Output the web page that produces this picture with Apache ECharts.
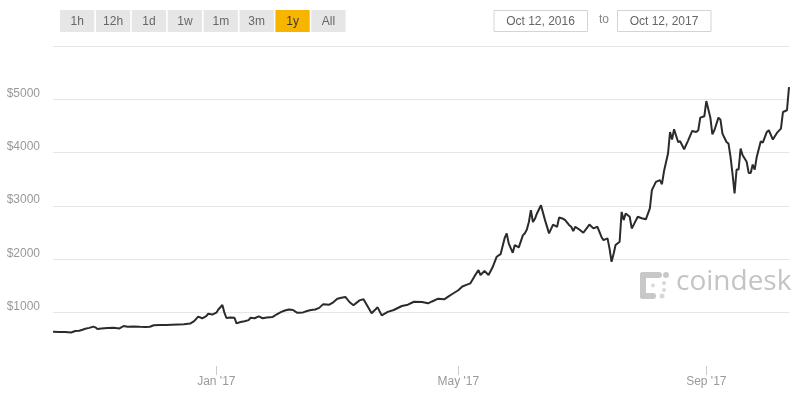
<!DOCTYPE html>
<html><head><meta charset="utf-8">
<script src="https://cdn.jsdelivr.net/npm/echarts@6/dist/echarts.min.js"></script>
<style>html,body{margin:0;padding:0;background:#fff}#chart{width:800px;height:400px}</style>
</head><body><div id="chart"></div>
<script>
const dates = ['2016-10-12','2016-10-15','2016-10-18','2016-10-21','2016-10-23','2016-10-25','2016-10-27','2016-10-28','2016-10-30',
'2016-11-01','2016-11-02','2016-11-03','2016-11-05','2016-11-08','2016-11-11','2016-11-14','2016-11-16','2016-11-18','2016-11-21','2016-11-24','2016-11-27','2016-11-29',
'2016-12-01','2016-12-04','2016-12-07','2016-12-10','2016-12-13','2016-12-16','2016-12-19','2016-12-21','2016-12-23','2016-12-25','2016-12-27','2016-12-28','2016-12-30',
'2017-01-01','2017-01-02','2017-01-04','2017-01-05','2017-01-06','2017-01-08','2017-01-10','2017-01-11','2017-01-13','2017-01-15','2017-01-17','2017-01-18','2017-01-20','2017-01-22','2017-01-24','2017-01-26','2017-01-29','2017-01-31',
'2017-02-02','2017-02-04','2017-02-06','2017-02-08','2017-02-10','2017-02-13','2017-02-15','2017-02-17','2017-02-19','2017-02-21','2017-02-23','2017-02-26','2017-02-28',
'2017-03-02','2017-03-04','2017-03-06','2017-03-08','2017-03-10','2017-03-13','2017-03-15','2017-03-17','2017-03-19','2017-03-22','2017-03-24','2017-03-27','2017-03-30',
'2017-04-03','2017-04-06','2017-04-09','2017-04-13','2017-04-16','2017-04-18','2017-04-21','2017-04-24','2017-04-26','2017-04-28',
'2017-05-01','2017-05-03','2017-05-05','2017-05-07','2017-05-09','2017-05-11','2017-05-12','2017-05-14','2017-05-16','2017-05-18','2017-05-20','2017-05-22','2017-05-24','2017-05-25','2017-05-26','2017-05-28','2017-05-29','2017-05-31',
'2017-06-02','2017-06-03','2017-06-04','2017-06-05','2017-06-06','2017-06-07','2017-06-08','2017-06-09','2017-06-11','2017-06-13','2017-06-15','2017-06-17','2017-06-19','2017-06-20','2017-06-22','2017-06-23','2017-06-25','2017-06-26','2017-06-27','2017-06-28','2017-06-30',
'2017-07-02','2017-07-04','2017-07-05','2017-07-07','2017-07-09','2017-07-11','2017-07-12','2017-07-14','2017-07-15','2017-07-16','2017-07-17','2017-07-18','2017-07-20','2017-07-21','2017-07-22','2017-07-23','2017-07-25','2017-07-26','2017-07-27','2017-07-29','2017-07-31',
'2017-08-02','2017-08-04','2017-08-05','2017-08-07','2017-08-09','2017-08-10','2017-08-11','2017-08-13','2017-08-14','2017-08-15','2017-08-16','2017-08-18','2017-08-19','2017-08-21','2017-08-23','2017-08-25','2017-08-27','2017-08-28','2017-08-29','2017-08-31',
'2017-09-01','2017-09-03','2017-09-04','2017-09-05','2017-09-07','2017-09-08','2017-09-09','2017-09-11','2017-09-12','2017-09-13','2017-09-14','2017-09-15','2017-09-16','2017-09-17','2017-09-18','2017-09-19','2017-09-20','2017-09-21','2017-09-22','2017-09-23','2017-09-24','2017-09-25','2017-09-26','2017-09-28','2017-09-29',
'2017-10-01','2017-10-02','2017-10-04','2017-10-06','2017-10-08','2017-10-09','2017-10-11','2017-10-12'];
const prices = [640,638,636,628,655,662,685,700,715,
738,725,694,705,712,715,705,750,738,740,735,732,735,
765,770,770,775,780,785,795,840,925,895,935,980,965,
1000,1060,1144,1000,900,910,905,800,825,840,860,905,895,930,895,910,920,970,
1010,1040,1060,1050,1000,1005,1030,1050,1060,1090,1160,1150,1195,
1260,1280,1295,1200,1140,1230,1250,1120,990,1100,950,1015,1050,
1125,1150,1205,1200,1175,1210,1262,1250,1300,1350,
1420,1490,1520,1550,1680,1800,1705,1780,1705,1850,2048,2098,2400,2486,2300,2123,2267,2225,
2450,2490,2560,2700,2922,2700,2760,2860,3015,2735,2486,2650,2610,2785,2760,2735,2640,2610,2530,2610,2560,
2498,2600,2654,2580,2610,2420,2360,2393,2200,1955,2100,2267,2330,2890,2735,2860,2798,2579,2650,2798,2770,
2750,2954,3297,3452,3485,3409,3650,3983,4388,4245,4438,4200,4213,4064,4232,4407,4388,4420,4657,4682,
4968,4657,4345,4420,4657,4620,4357,4200,4170,3920,3600,3235,3684,3684,4077,3950,3890,3828,3620,3620,3778,3684,3920,4213,4190,
4388,4420,4245,4370,4450,4762,4795,5230];
const xStart = '2016-10-12';
const xEnd = '2017-10-12';
const tickDates = ['2017-01-01','2017-05-01','2017-09-01'];
const tickLabels = ["Jan '17","May '17","Sep '17"];
const yTicks = [1000,2000,3000,4000,5000];
const rangeButtons = ['1h','12h','1d','1w','1m','3m','1y','All'];
const selectedRange = '1y';
const dateFrom = 'Oct 12, 2016';
const dateTo = 'Oct 12, 2017';
const brand = 'coindesk';

function toTime(s){const p=s.split('-').map(Number);return new Date(p[0],p[1]-1,p[2]).getTime();}
const tickTimes = tickDates.map(toTime);
const FONT = '"Liberation Sans", Arial, sans-serif';

const graphic = [];
rangeButtons.forEach((b,i)=>{
  const sel = b===selectedRange;
  graphic.push({type:'group', left:60+i*35.9, top:10, children:[
    {type:'rect', shape:{x:0,y:0,width:34.3,height:22}, style:{fill: sel?'#f7b500':'#e6e6e6'}},
    {type:'text', x:17.2, y:11.5, style:{text:b, fill: sel?'#3a3a3a':'#666', font:'12px '+FONT, textAlign:'center', textVerticalAlign:'middle', align:'center', verticalAlign:'middle'}}
  ]});
});
[[493.5,dateFrom],[617,dateTo]].forEach(([x,t])=>{
  graphic.push({type:'group', left:x, top:10, children:[
    {type:'rect', shape:{x:0.5,y:0.5,width:93.5,height:21}, style:{fill:'#fff', stroke:'#d4d4d4', lineWidth:1}},
    {type:'text', x:47, y:11.5, style:{text:t, fill:'#666', font:'12px '+FONT, textAlign:'center', textVerticalAlign:'middle', align:'center', verticalAlign:'middle'}}
  ]});
});
graphic.push({type:'text', left:599, top:14, style:{text:'to', fill:'#888', font:'12px '+FONT}});
// watermark logo
const dotC = '#c8c8c8';
const logoChildren = [
  {type:'line', shape:{x1:3,y1:3,x2:19,y2:3}, style:{stroke:dotC, lineWidth:6, lineCap:'round'}},
  {type:'line', shape:{x1:3,y1:3,x2:3,y2:24}, style:{stroke:dotC, lineWidth:6, lineCap:'round'}},
  {type:'line', shape:{x1:3,y1:24,x2:13,y2:24}, style:{stroke:dotC, lineWidth:6, lineCap:'round'}},
  {type:'circle', shape:{cx:26,cy:3,r:3}, style:{fill:dotC}},
  {type:'circle', shape:{cx:22,cy:24,r:2.5}, style:{fill:'#d8d8d8'}},
  {type:'circle', shape:{cx:24,cy:11,r:2}, style:{fill:'#d8d8d8'}},
  {type:'circle', shape:{cx:24,cy:18,r:2}, style:{fill:'#d8d8d8'}},
  {type:'circle', shape:{cx:13,cy:13.5,r:2}, style:{fill:'#dcdcdc'}}
];
graphic.push({type:'group', left:640, top:272, children:logoChildren});
graphic.push({type:'text', left:676, top:268, style:{text:brand, fill:'#c4c4c4', font:'28px "Open Sans", sans-serif'}});

const chart = echarts.init(document.getElementById('chart'), null, {renderer:'canvas'});
chart.setOption({
  animation:false,
  backgroundColor:'#fff',
  grid:{left:53, right:11, top:46, bottom:34, containLabel:false, outerBoundsMode:'none'},
  xAxis:{type:'value', min:toTime(xStart), max:toTime(xEnd),
    axisLine:{show:false}, splitLine:{show:false},
    axisTick:{show:true, length:9, lineStyle:{color:'#cccccc', width:1}, customValues:tickTimes},
    axisLabel:{customValues:tickTimes, formatter:(v)=>{const i=tickTimes.indexOf(v);return i>=0?tickLabels[i]:'';}, color:'#999', fontSize:12, fontFamily:FONT, margin:10}
  },
  yAxis:{type:'value', min:0, max:6000, interval:1000,
    axisLine:{show:false}, axisTick:{show:false},
    splitLine:{show:true, showMinLine:false, lineStyle:{color:'#e6e6e6', width:1}},
    axisLabel:{formatter:(v)=>yTicks.includes(v)?'$'+v:'', color:'#999', fontSize:12, fontFamily:FONT, margin:13, verticalAlign:'bottom'}
  },
  series:[{type:'line', data:dates.map((d,i)=>[toTime(d),prices[i]]), showSymbol:false, symbol:'none',
    lineStyle:{color:'#2b2b2b', width:2}, itemStyle:{color:'#2b2b2b'}, emphasis:{disabled:true}}],
  graphic:graphic
});
</script></body></html>
